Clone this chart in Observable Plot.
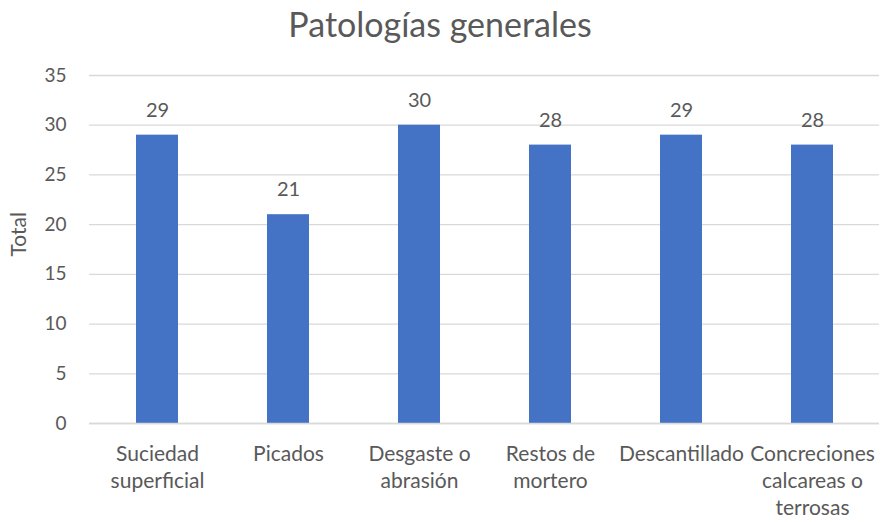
<!DOCTYPE html>
<html>
<head>
<meta charset="utf-8">
<script src="https://cdn.jsdelivr.net/npm/d3@7"></script>
<script src="https://cdn.jsdelivr.net/npm/@observablehq/plot@0.6"></script>
<style>
  html, body { margin: 0; padding: 0; background: #fff; }
  #chart svg { font-family: Lato, "Open Sans", sans-serif; }
</style>
</head>
<body>
<div id="chart"></div>
<script>
const categories = [
  "Suciedad\nsuperficial",
  "Picados",
  "Desgaste o\nabrasión",
  "Restos de\nmortero",
  "Descantillado",
  "Concreciones\ncalcareas o\nterrosas"
];
const totals = [29, 21, 30, 28, 29, 28];
const yTicks = [0, 5, 10, 15, 20, 25, 30, 35];
const title = "Patologías generales";
const yLabel = "Total";

const data = categories.map((c, i) => ({category: c, total: totals[i]}));
const textColor = "#595959";

const chart = Plot.plot({
  width: 890,
  height: 522,
  marginLeft: 89,
  marginRight: 11,
  marginTop: 75,
  marginBottom: 99,
  style: {fontFamily: "Lato, 'Open Sans', sans-serif", color: textColor, background: "#fff"},
  x: {domain: categories, paddingInner: 0.68, paddingOuter: 0.34},
  y: {domain: [0, 35], ticks: yTicks},
  marks: [
    Plot.gridY(yTicks, {stroke: "#d9d9d9", strokeOpacity: 1, strokeWidth: 1.3}),
    Plot.barY(data, {x: "category", y: "total", fill: "#4472C4"}),
    Plot.ruleY([0], {stroke: "#d9d9d9", strokeWidth: 1.3}),
    Plot.text(data, {x: "category", y: "total", text: d => String(d.total), dy: -25, fontSize: 20, fill: textColor}),
    Plot.axisY(yTicks, {tickSize: 0, tickPadding: 23, fontSize: 19, fill: textColor, label: null}),
    Plot.axisX({tickSize: 0, tickPadding: 18, fontSize: 21, lineHeight: 1.3, fill: textColor, label: null}),
    Plot.text([yLabel], {frameAnchor: "left", rotate: -90, dx: -70, dy: 7, fontSize: 21, fill: textColor}),
    Plot.text([title], {frameAnchor: "top", dx: -44.5, dy: -63, fontSize: 34, fill: textColor})
  ]
});
document.getElementById("chart").appendChild(chart);
</script>
</body>
</html>
